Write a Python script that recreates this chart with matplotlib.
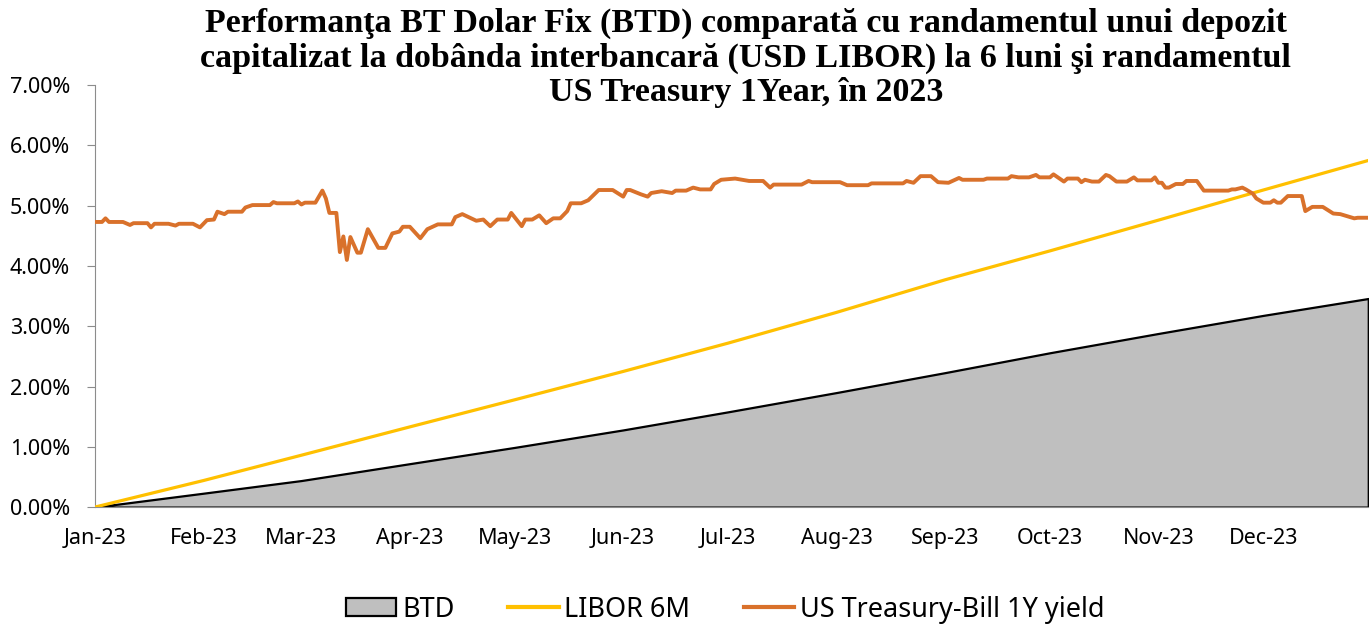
import numpy as np
import pandas as pd
import matplotlib
matplotlib.use("Agg")
import matplotlib.pyplot as plt
import matplotlib.dates as mdates
from matplotlib.ticker import FuncFormatter
from matplotlib.patches import Patch
from matplotlib.lines import Line2D

# month-start readings for the two (almost straight) accumulation series, in %
acc_dates = ["2023-01-01", "2023-02-01", "2023-03-01", "2023-04-01", "2023-05-01",
             "2023-06-01", "2023-07-01", "2023-08-01", "2023-09-01", "2023-10-01",
             "2023-11-01", "2023-12-01", "2023-12-31"]
btd = [0.00, 0.23, 0.44, 0.72, 0.99, 1.28, 1.58, 1.90, 2.23, 2.56, 2.88, 3.18, 3.46]
libor = [0.00, 0.44, 0.86, 1.33, 1.78, 2.25, 2.72, 3.23, 3.77, 4.25, 4.76, 5.26, 5.75]

# US Treasury-Bill 1Y yield, in %
ust_dates = [
    "2023-01-01", "2023-01-03", "2023-01-04", "2023-01-05", "2023-01-09", "2023-01-11",
    "2023-01-12", "2023-01-16", "2023-01-17", "2023-01-18", "2023-01-22", "2023-01-24",
    "2023-01-25", "2023-01-29", "2023-01-31", "2023-02-02", "2023-02-04", "2023-02-05",
    "2023-02-07", "2023-02-08", "2023-02-12", "2023-02-13", "2023-02-15", "2023-02-20",
    "2023-02-21", "2023-02-22", "2023-02-27", "2023-02-28", "2023-03-01", "2023-03-02",
    "2023-03-05", "2023-03-07", "2023-03-08", "2023-03-09", "2023-03-11", "2023-03-12",
    "2023-03-13", "2023-03-14", "2023-03-15", "2023-03-17", "2023-03-18", "2023-03-20",
    "2023-03-23", "2023-03-25", "2023-03-27", "2023-03-29", "2023-03-30", "2023-04-01",
    "2023-04-04", "2023-04-06", "2023-04-09", "2023-04-13", "2023-04-14", "2023-04-16",
    "2023-04-20", "2023-04-22", "2023-04-24", "2023-04-26", "2023-04-29", "2023-04-30",
    "2023-05-03", "2023-05-04", "2023-05-06", "2023-05-08", "2023-05-10", "2023-05-12",
    "2023-05-14", "2023-05-16", "2023-05-17", "2023-05-20", "2023-05-22", "2023-05-25",
    "2023-05-29", "2023-06-01", "2023-06-02", "2023-06-03", "2023-06-06", "2023-06-08",
    "2023-06-09", "2023-06-12", "2023-06-15", "2023-06-16", "2023-06-19", "2023-06-21",
    "2023-06-23", "2023-06-26", "2023-06-27", "2023-06-29", "2023-07-03", "2023-07-05",
    "2023-07-07", "2023-07-11", "2023-07-13", "2023-07-14", "2023-07-22", "2023-07-24",
    "2023-07-25", "2023-08-02", "2023-08-04", "2023-08-10", "2023-08-11", "2023-08-20",
    "2023-08-21", "2023-08-23", "2023-08-25", "2023-08-28", "2023-08-30", "2023-09-02",
    "2023-09-05", "2023-09-06", "2023-09-12", "2023-09-13", "2023-09-19", "2023-09-20",
    "2023-09-22", "2023-09-25", "2023-09-27", "2023-09-28", "2023-10-01", "2023-10-02",
    "2023-10-05", "2023-10-06", "2023-10-09", "2023-10-10", "2023-10-11", "2023-10-13",
    "2023-10-15", "2023-10-17", "2023-10-18", "2023-10-20", "2023-10-23", "2023-10-25",
    "2023-10-26", "2023-10-30", "2023-10-31", "2023-11-01", "2023-11-02", "2023-11-03",
    "2023-11-04", "2023-11-06", "2023-11-08", "2023-11-09", "2023-11-12", "2023-11-14",
    "2023-11-21", "2023-11-22", "2023-11-23", "2023-11-25", "2023-11-26", "2023-11-28",
    "2023-11-29", "2023-12-01", "2023-12-03", "2023-12-04", "2023-12-05", "2023-12-06",
    "2023-12-08", "2023-12-12", "2023-12-13", "2023-12-15", "2023-12-18", "2023-12-21",
    "2023-12-23", "2023-12-27", "2023-12-28", "2023-12-31"]
ust = [
    4.73, 4.73, 4.79, 4.73, 4.73, 4.68,
    4.71, 4.71, 4.64, 4.70, 4.70, 4.67,
    4.70, 4.70, 4.64, 4.76, 4.77, 4.90,
    4.86, 4.90, 4.90, 4.97, 5.01, 5.01,
    5.06, 5.04, 5.04, 5.07, 5.02, 5.05,
    5.05, 5.25, 5.12, 4.88, 4.88, 4.23,
    4.49, 4.10, 4.48, 4.22, 4.22, 4.61,
    4.30, 4.30, 4.54, 4.57, 4.65, 4.65,
    4.46, 4.61, 4.69, 4.69, 4.81, 4.86,
    4.75, 4.77, 4.66, 4.77, 4.77, 4.88,
    4.66, 4.77, 4.77, 4.84, 4.71, 4.79,
    4.79, 4.91, 5.04, 5.04, 5.09, 5.26,
    5.26, 5.15, 5.26, 5.26, 5.19, 5.15,
    5.21, 5.24, 5.21, 5.25, 5.25, 5.30,
    5.27, 5.27, 5.36, 5.43, 5.45, 5.43,
    5.41, 5.41, 5.30, 5.35, 5.35, 5.41,
    5.39, 5.39, 5.34, 5.34, 5.37, 5.37,
    5.41, 5.38, 5.49, 5.49, 5.39, 5.38,
    5.46, 5.43, 5.43, 5.45, 5.45, 5.49,
    5.47, 5.47, 5.51, 5.47, 5.47, 5.52,
    5.40, 5.45, 5.45, 5.39, 5.43, 5.40,
    5.40, 5.51, 5.49, 5.40, 5.40, 5.47,
    5.42, 5.42, 5.47, 5.38, 5.38, 5.30,
    5.30, 5.36, 5.36, 5.41, 5.41, 5.25,
    5.25, 5.27, 5.27, 5.30, 5.27, 5.20,
    5.12, 5.05, 5.05, 5.09, 5.05, 5.05,
    5.16, 5.16, 4.91, 4.98, 4.98, 4.87,
    4.86, 4.79, 4.80, 4.80]

title = ("Performanţa BT Dolar Fix (BTD) comparată cu randamentul unui depozit\n"
         "capitalizat la dobânda interbancară (USD LIBOR) la 6 luni şi randamentul\n"
         "US Treasury 1Year, în 2023")

acc_x = pd.to_datetime(acc_dates)
ust_x = pd.to_datetime(ust_dates)

lab_font = "Noto Sans"

fig = plt.figure(figsize=(13.71, 6.26), dpi=100)
ax = fig.add_axes([0.0693, 0.190, 0.9287, 0.674])

ax.fill_between(acc_x, 0, btd, facecolor="#bfbfbf", edgecolor="black", linewidth=1.6, zorder=2)
ax.plot(acc_x, libor, color="#ffc000", linewidth=2.3, zorder=3)
ax.plot(ust_x, ust, color="#d9712b", linewidth=2.8, zorder=4)

ax.set_xlim(pd.Timestamp("2023-01-01"), pd.Timestamp("2023-12-31"))
ax.set_ylim(0, 7)
ax.set_yticks(np.arange(0, 8, 1))
ax.yaxis.set_major_formatter(FuncFormatter(lambda v, p: "%.2f%%" % v))
ax.xaxis.set_major_locator(mdates.MonthLocator())
ax.xaxis.set_major_formatter(mdates.DateFormatter("%b-%y"))

for s in ["top", "right"]:
    ax.spines[s].set_visible(False)
ax.spines["left"].set_color("#8c8c8c")
ax.spines["bottom"].set_color("#8c8c8c")
ax.tick_params(axis="y", length=6, color="#8c8c8c", pad=12, labelsize=15.5)
ax.tick_params(axis="x", length=0, pad=15, labelsize=15.5)
for t in ax.get_xticklabels() + ax.get_yticklabels():
    t.set_family(lab_font)

fig.text(0.544, 0.988, title, ha="center", va="top", family="Liberation Serif",
         fontweight="bold", fontsize=24.5, linespacing=1.15)

handles = [Patch(facecolor="#bfbfbf", edgecolor="black", linewidth=1.6),
           Line2D([], [], color="#ffc000", linewidth=3),
           Line2D([], [], color="#d9712b", linewidth=3)]
fig.legend(handles, ["BTD", "LIBOR 6M", "US Treasury-Bill 1Y yield"],
           loc="center", bbox_to_anchor=(0.529, 0.026), ncol=3, frameon=False,
           prop={"family": lab_font, "size": 19.5}, handlelength=1.85,
           handleheight=0.65, handletextpad=0.2, columnspacing=2.0)

fig.savefig("out.png", dpi=100)
